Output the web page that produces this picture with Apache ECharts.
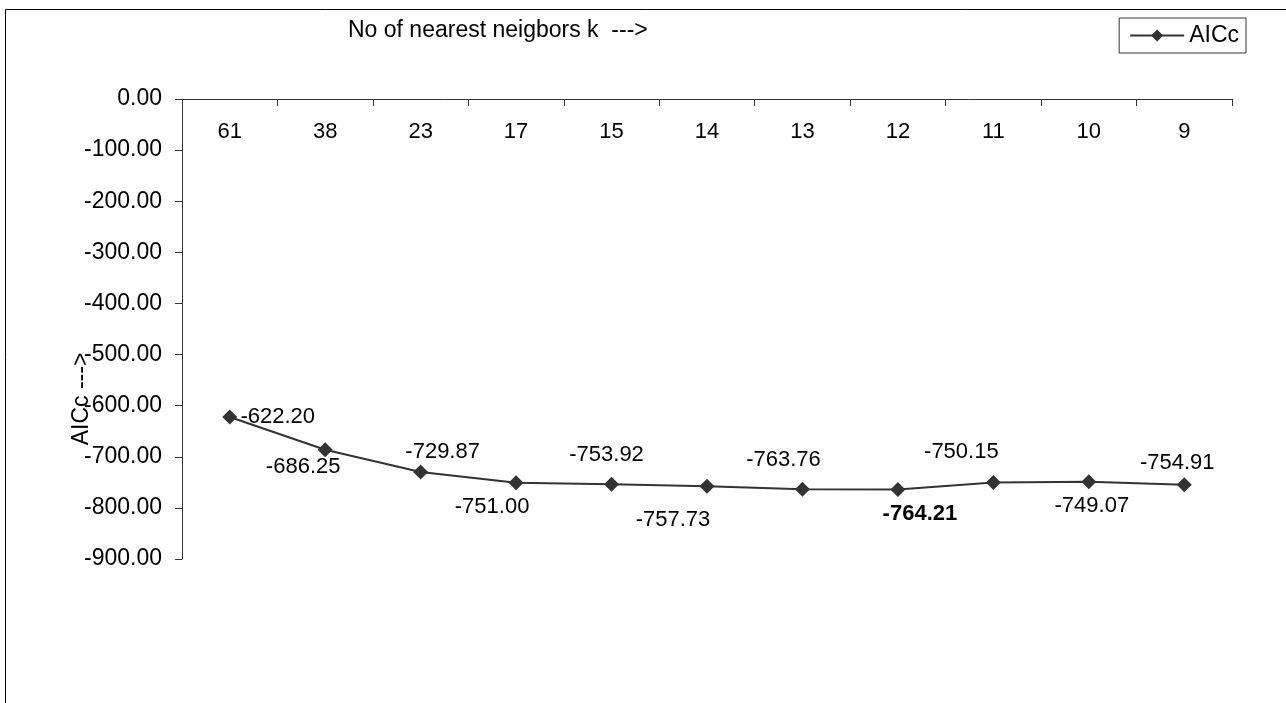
<!DOCTYPE html>
<html>
<head>
<meta charset="utf-8">
<script src="https://cdn.jsdelivr.net/npm/echarts@6/dist/echarts.min.js"></script>
<style>
  html, body { margin: 0; padding: 0; background: #fff; }
  #chart { width: 1286px; height: 703px; }
</style>
</head>
<body>
<div id="chart"></div>
<script>
// Number of nearest neighbours k and the resulting AICc
const kValues = ['61', '38', '23', '17', '15', '14', '13', '12', '11', '10', '9'];
const aicc = [-622.20, -686.25, -729.87, -751.00, -753.92, -757.73, -763.76, -764.21, -750.15, -749.07, -754.91];
const yTicks = { min: -900, max: 0, step: 100 };

// Label placement around each marker (dx, dy from marker centre), and which label is bold
const labelOffsets = [[48, 0], [-22, 17], [22, -20], [-24, 24], [-5, -29], [-34, 34], [-19, -29], [22, 24], [-32, -30], [3, 24], [-7, -22]];
const boldIndex = 7;

const FONT = '"Liberation Sans", Arial, sans-serif';
const INK = '#333333';

const seriesData = aicc.map((v, i) => ({
  value: v,
  label: {
    show: true,
    position: 'inside',
    offset: labelOffsets[i],
    align: 'center',
    verticalAlign: 'middle',
    fontWeight: i === boldIndex ? 'bold' : 'normal'
  }
}));

const chart = echarts.init(document.getElementById('chart'), null, { renderer: 'canvas' });
chart.setOption({
  animation: false,
  backgroundColor: '#ffffff',
  textStyle: { fontFamily: FONT },
  title: {
    text: 'No of nearest neigbors k  --->',
    left: 348,
    top: 19,
    padding: 0,
    textStyle: { fontFamily: FONT, fontSize: 23, fontWeight: 'normal', color: '#000' }
  },
  legend: {
    right: 40,
    top: 18,
    orient: 'horizontal',
    borderColor: INK,
    borderWidth: 1,
    padding: [6, 7, 6, 10],
    itemWidth: 54,
    itemHeight: 15,
    itemGap: 6,
    textStyle: { fontFamily: FONT, fontSize: 23, color: '#000' },
    data: ['AICc']
  },
  grid: { left: 182, right: 54, top: 99, bottom: 144, containLabel: false },
  xAxis: {
    type: 'category',
    position: 'top',
    data: kValues,
    boundaryGap: true,
    axisLine: { show: true, lineStyle: { color: INK, width: 1 } },
    axisTick: { show: true, inside: true, length: 7, alignWithLabel: false, lineStyle: { color: INK } },
    axisLabel: { inside: true, margin: 22, fontSize: 22, color: '#000', fontFamily: FONT },
    splitLine: { show: false }
  },
  yAxis: {
    type: 'value',
    min: yTicks.min,
    max: yTicks.max,
    interval: yTicks.step,
    axisLine: { show: true, lineStyle: { color: INK, width: 1 } },
    axisTick: { show: true, length: 7, lineStyle: { color: INK } },
    axisLabel: { margin: 20, fontSize: 23, color: '#000', fontFamily: FONT, formatter: v => v.toFixed(2) },
    splitLine: { show: false }
  },
  graphic: [
    {
      type: 'rect',
      shape: { x: 5.5, y: 9.5, width: 1300, height: 800 },
      style: { fill: 'none', stroke: '#000', lineWidth: 1 },
      silent: true,
      z: -1
    },
    {
      type: 'text',
      x: 82,
      y: 399,
      rotation: Math.PI / 2,
      style: {
        text: 'AICc --->',
        font: '23px ' + FONT,
        fill: '#000',
        align: 'center',
        verticalAlign: 'middle'
      },
      z: 10
    }
  ],
  series: [{
    name: 'AICc',
    type: 'line',
    data: seriesData,
    symbol: 'diamond',
    symbolSize: 15,
    lineStyle: { color: INK, width: 2 },
    itemStyle: { color: INK },
    label: { fontSize: 22, color: '#000', fontFamily: FONT, formatter: p => p.value.toFixed(2) }
  }]
});
</script>
</body>
</html>
